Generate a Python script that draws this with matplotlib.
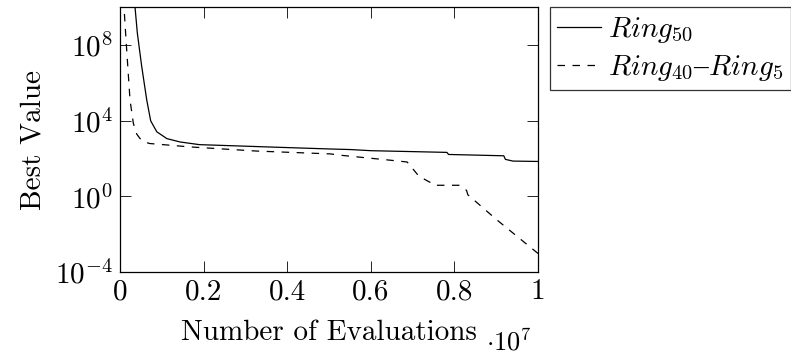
#!/usr/bin/env python3
import matplotlib
matplotlib.use("Agg")
import matplotlib.pyplot as plt
from matplotlib.ticker import LogFormatterSciNotation, NullLocator

# evaluations (in units of 1e7) and best value
ring50_x = [0.030, 0.036, 0.0415, 0.052, 0.064, 0.0734, 0.088, 0.112, 0.144, 0.19,
            0.351, 0.503, 0.551, 0.60, 0.782, 0.786, 0.918, 0.922, 0.94, 1.0]
ring50_y = [1e11, 1e10, 10**8.64, 10**6.87, 10**5.1, 1e4, 10**3.42, 10**3.06, 10**2.88, 10**2.74,
            10**2.62, 10**2.51, 10**2.48, 10**2.42, 10**2.33, 10**2.22, 10**2.15, 10**1.96, 10**1.87, 10**1.85]

ring40_5_x = [0.005, 0.0096, 0.016, 0.024, 0.032, 0.040, 0.048, 0.056, 0.071, 0.167,
              0.327, 0.503, 0.527, 0.663, 0.687, 0.715, 0.743, 0.751, 0.811, 0.829,
              0.832, 0.902, 1.0]
ring40_5_y = [1e11, 1e10, 10**7.75, 10**5.1, 10**3.86, 10**3.3, 10**3.06, 10**2.9, 10**2.8, 10**2.62,
              10**2.4, 10**2.25, 10**2.18, 10**1.88, 10**1.82, 10**1.07, 10**0.73, 10**0.59, 10**0.59, 10**0.32,
              10**0.09, 10**-1.25, 10**-3.02]

labels = [r"$Ring_{50}$", "$Ring_{40}$\u2013$Ring_{5}$"]
x_ticks = [0, 0.2, 0.4, 0.6, 0.8, 1.0]
x_tick_labels = ["0", "0.2", "0.4", "0.6", "0.8", "1"]
y_ticks = [1e-4, 1e0, 1e4, 1e8]


def main() -> None:
    plt.rcParams["font.family"] = ["cmr10", "DejaVu Serif"]
    plt.rcParams["mathtext.fontset"] = "cm"
    plt.rcParams["axes.formatter.use_mathtext"] = True
    plt.rcParams["font.size"] = 21

    fig = plt.figure(figsize=(7.91, 3.54), dpi=100)
    ax = fig.add_axes([0.1517, 0.2316, 0.5285, 0.7474])

    ax.plot(ring50_x, ring50_y, color="black", lw=0.9, label=labels[0])
    ax.plot(ring40_5_x, ring40_5_y, color="black", lw=0.9, dashes=(6, 6), label=labels[1])

    ax.set_yscale("log")
    ax.set_xlim(0, 1)
    ax.set_ylim(1e-4, 1e10)
    ax.set_xticks(x_ticks)
    ax.set_xticklabels(x_tick_labels)
    ax.set_yticks(y_ticks)
    ax.yaxis.set_major_formatter(LogFormatterSciNotation())
    ax.yaxis.set_minor_locator(NullLocator())
    ax.tick_params(direction="in", length=8, width=0.6, top=True, right=True, pad=5)
    for s in ax.spines.values():
        s.set_linewidth(0.9)

    ax.set_xlabel("Number of Evaluations", labelpad=10)
    ax.set_ylabel("Best Value", labelpad=6)
    ax.text(0.985, -0.265, r"$\cdot 10^{7}$", transform=ax.transAxes, ha="right", va="center",
            fontsize=19)

    # cmr10 has no en dash, so the legend text uses a serif face that has one
    leg = ax.legend(loc="upper left", bbox_to_anchor=(1.029, 1.0), frameon=True,
                    fancybox=False, edgecolor="black", handlelength=1.5,
                    handletextpad=0.25, borderpad=0.25, labelspacing=0.28,
                    borderaxespad=0, prop={"family": "Liberation Serif", "size": 21})
    leg.get_frame().set_linewidth(0.9)

    fig.savefig("out.png", dpi=100)


if __name__ == "__main__":
    main()
